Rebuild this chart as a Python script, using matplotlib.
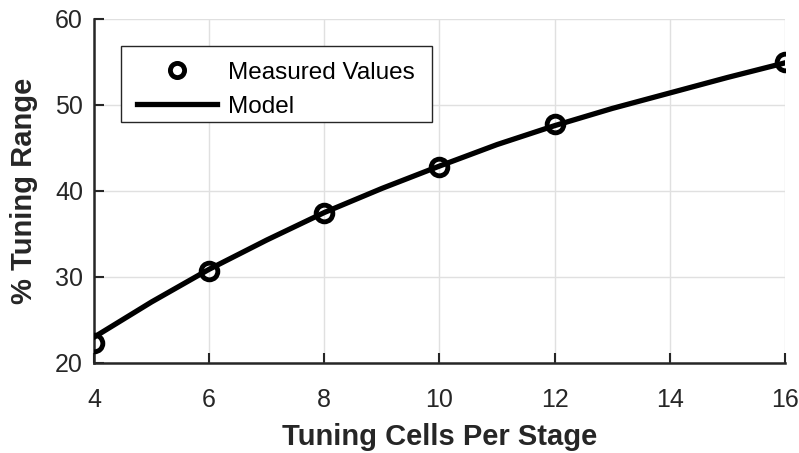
import matplotlib
matplotlib.use("Agg")
import matplotlib.pyplot as plt
from matplotlib.patches import Rectangle

plt.rcParams['font.family'] = ['Liberation Sans', 'DejaVu Sans']

# measured tuning range at each cell count
cells = [4, 6, 8, 10, 12, 16]
measured = [22.3, 30.7, 37.4, 42.8, 47.8, 55.0]

# model curve
model_x = [4, 5, 6, 7, 8, 9, 10, 11, 12, 13, 14, 15, 16]
model_y = [23.0, 27.1, 30.9, 34.3, 37.5, 40.3, 42.9, 45.4, 47.6, 49.6, 51.4, 53.2, 54.9]

xticks = [4, 6, 8, 10, 12, 14, 16]
yticks = [20, 30, 40, 50, 60]

fig = plt.figure(figsize=(7.99, 4.53), dpi=100)
ax = fig.add_axes([94 / 799, 1 - 363 / 453, (785 - 94) / 799, (363 - 19) / 453])

ax.plot(cells, measured, 'o', color='none', markerfacecolor='none',
        markeredgecolor='black', markersize=12, markeredgewidth=3.5,
        label='Measured Values', zorder=4)
ax.plot(model_x, model_y, '-', color='black', lw=3.8, label='Model', zorder=3)

ax.set_xlim(4, 16)
ax.set_ylim(20, 60)
ax.set_xticks(xticks)
ax.set_yticks(yticks)
ax.grid(True, color='#e0e0e0', lw=1)
ax.set_axisbelow(True)

for s in ['top', 'right']:
    ax.spines[s].set_visible(False)
for s in ['left', 'bottom']:
    ax.spines[s].set_color('#262626')
    ax.spines[s].set_linewidth(1.8)

ax.tick_params(direction='in', length=7, width=1.5, colors='#262626',
               labelsize=18, pad=8)
ax.tick_params(axis='x', pad=18)

ax.set_xlabel('Tuning Cells Per Stage', fontsize=21, fontweight='bold',
              color='#262626', labelpad=8)
ax.set_ylabel('% Tuning Range', fontsize=21, fontweight='bold',
              color='#262626', labelpad=12)

# legend box drawn by hand so the padding is tighter at the bottom
box = Rectangle((0.039, 0.7006), 0.45, 0.2209, transform=ax.transAxes,
                facecolor='white', edgecolor='#262626', lw=1, zorder=4.5)
ax.add_patch(box)

leg = ax.legend(loc='upper left', bbox_to_anchor=(27 / 691, 1 - 27 / 344),
                fontsize=17.5, frameon=False, borderpad=0.65,
                handlelength=3.3, handletextpad=0.45, labelspacing=0.5,
                borderaxespad=0, markerscale=0.85)
leg.set_zorder(5)

fig.savefig('out.png', dpi=100)
